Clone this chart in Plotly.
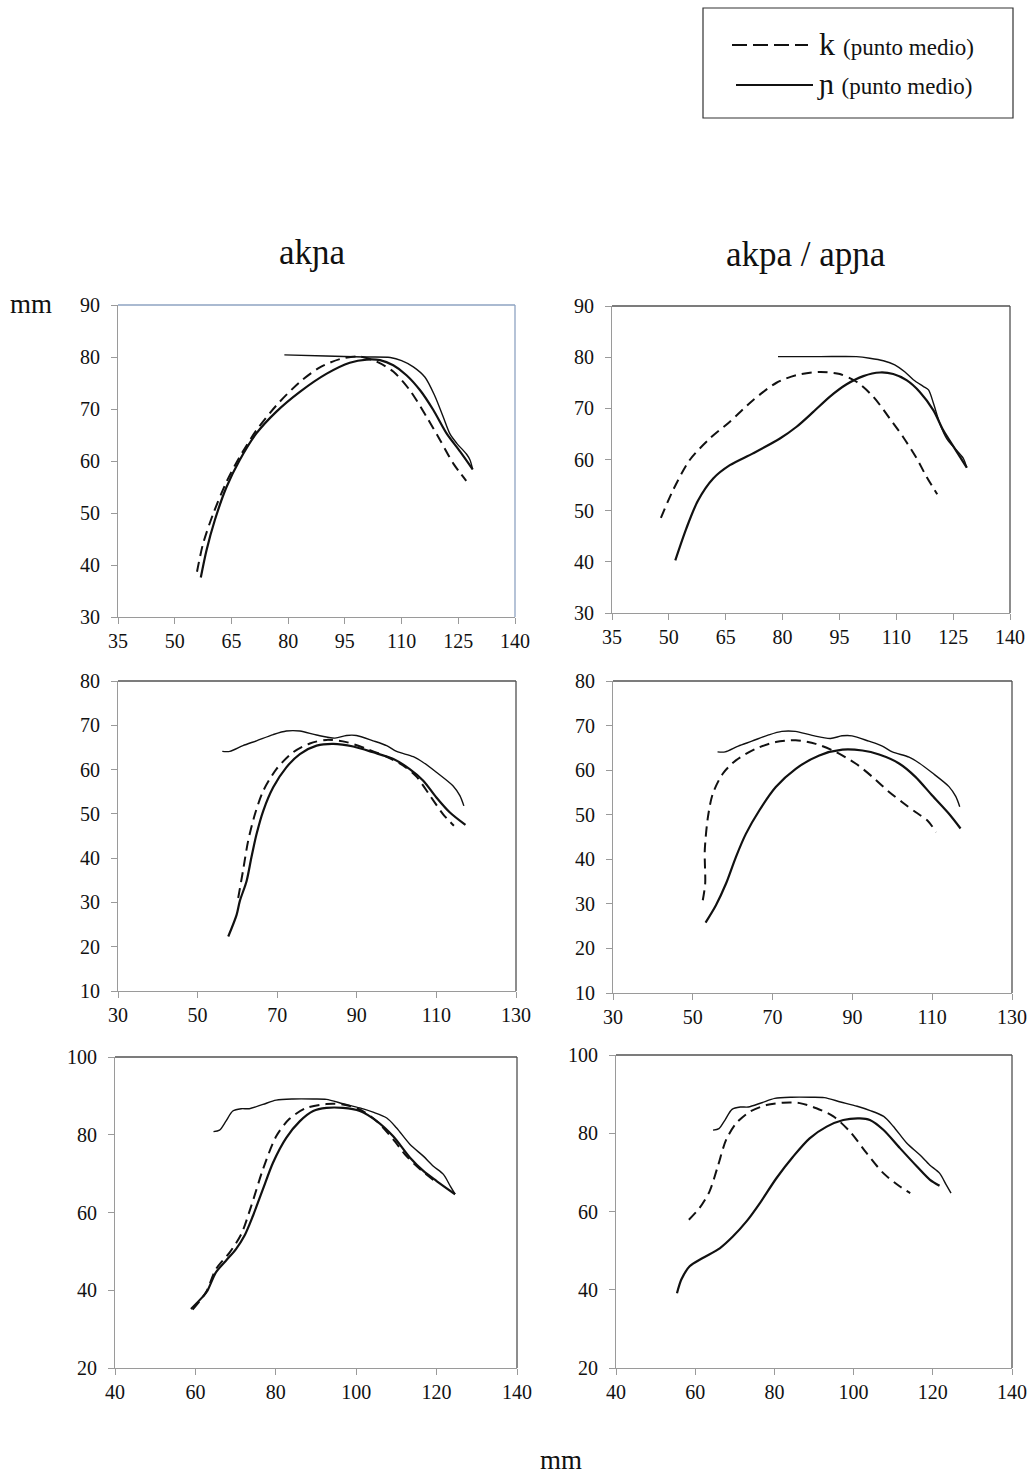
import plotly.graph_objects as go

W, H = 1033, 1475

# ---------------- data ----------------
# Row 1 (top): left akɲa, right akpa / apɲa
p1_k_x = [55.9, 57.5, 60.2, 63.7, 67.2, 71.6, 76.9, 83.1, 88.4, 93.7, 99.0, 103.4, 107.8, 112.2, 116.6, 120.2, 123.7, 127.1]
p1_k_y = [38.7, 44.1, 49.9, 56.0, 60.8, 65.9, 70.7, 75.2, 78.0, 79.6, 80.1, 79.1, 77.2, 73.6, 68.5, 64.0, 59.5, 56.2]
p1_n_x = [56.9, 58.4, 60.6, 63.7, 67.2, 71.6, 76.9, 83.1, 90.2, 96.3, 100.8, 104.3, 107.8, 111.3, 114.9, 118.4, 121.9, 125.5, 128.8]
p1_n_y = [37.6, 42.8, 48.6, 55.0, 60.2, 65.3, 69.5, 73.3, 76.8, 78.9, 79.5, 79.4, 78.4, 76.5, 73.6, 69.8, 65.3, 61.8, 58.4]
p1_pal_x = [79.0, 90.0, 100.0, 107.0, 110.0, 113.1, 116.2, 118.8, 121.0, 122.8, 124.6, 127.2, 128.1, 128.8]
p1_pal_y = [80.4, 80.2, 80.0, 79.9, 79.3, 78.1, 76.1, 72.5, 68.5, 65.2, 63.4, 61.3, 60.2, 58.4]

p2_k_x = [47.9, 51.1, 55.5, 60.8, 66.1, 72.2, 78.4, 83.7, 89.8, 95.1, 99.5, 103.9, 108.3, 111.8, 115.4, 118.0, 120.8]
p2_k_y = [48.6, 54.0, 59.9, 64.1, 67.4, 71.6, 75.0, 76.5, 77.1, 76.7, 75.2, 72.3, 68.0, 64.4, 60.2, 56.6, 53.2]
p2_n_x = [51.7, 54.6, 57.7, 61.7, 66.1, 72.2, 79.3, 83.7, 88.1, 92.5, 96.9, 101.3, 105.7, 109.2, 112.7, 116.2, 119.8, 122.4, 125.1, 128.6]
p2_n_y = [40.3, 46.5, 52.0, 56.3, 58.9, 61.2, 64.1, 66.4, 69.3, 72.3, 74.7, 76.3, 77.0, 76.7, 75.5, 73.2, 69.6, 65.7, 62.5, 58.4]
p2_pal_x = [78.8, 90.0, 99.5, 103.0, 106.6, 109.6, 112.3, 114.5, 117.1, 118.5, 119.8, 121.5, 123.3, 125.9, 127.7, 128.6]
p2_pal_y = [80.1, 80.1, 80.1, 79.8, 79.3, 78.5, 77.1, 75.6, 74.3, 73.6, 71.0, 67.0, 64.1, 61.8, 60.2, 58.4]

# Row 2
p3_k_x = [60.2, 61.4, 62.7, 64.4, 66.5, 69.8, 74.0, 78.2, 82.4, 87.4, 92.4, 97.5, 101.7, 105.0, 108.4, 111.7, 114.4]
p3_k_y = [31.0, 37.1, 43.9, 49.9, 55.2, 60.1, 63.9, 65.9, 66.7, 66.2, 64.7, 62.9, 60.9, 58.4, 54.1, 49.9, 47.3]
p3_n_x = [57.7, 59.8, 60.6, 62.3, 63.5, 64.8, 66.5, 69.0, 72.3, 75.7, 79.9, 84.1, 89.1, 94.1, 99.2, 103.3, 106.7, 110.0, 113.4, 117.3]
p3_n_y = [22.3, 27.2, 30.3, 34.8, 40.1, 45.4, 50.7, 56.0, 60.5, 63.5, 65.4, 65.8, 65.2, 63.9, 62.4, 60.1, 57.5, 53.7, 50.3, 47.5]
row2_pal_x = [56.2, 58.1, 61.4, 64.8, 69.0, 72.3, 75.7, 79.9, 84.5, 87.4, 89.9, 94.1, 97.5, 100.0, 104.2, 106.7, 110.0, 114.2, 115.9, 116.9]
row2_pal_y = [64.1, 64.1, 65.4, 66.5, 67.9, 68.7, 68.7, 67.8, 67.1, 67.7, 67.7, 66.5, 65.4, 64.1, 62.9, 61.6, 59.4, 56.3, 54.1, 51.8]

p4_k_x = [52.5, 53.1, 53.0, 53.8, 55.0, 57.5, 60.8, 65.8, 70.8, 75.8, 80.8, 85.8, 90.8, 95.0, 99.2, 102.5, 105.8, 108.8, 111.0]
p4_k_y = [30.8, 34.5, 42.0, 49.5, 54.7, 59.2, 62.2, 64.8, 66.3, 66.7, 65.9, 64.1, 61.5, 58.5, 55.1, 52.8, 50.6, 48.7, 46.1]
p4_n_x = [53.2, 55.8, 58.3, 60.8, 63.3, 66.7, 70.8, 75.8, 81.7, 87.5, 92.5, 96.7, 101.7, 105.8, 110.0, 114.2, 117.1]
p4_n_y = [25.8, 29.7, 34.5, 40.5, 45.7, 51.0, 56.2, 60.3, 63.3, 64.6, 64.4, 63.5, 61.5, 58.5, 54.3, 50.2, 46.9]

# Row 3
p5_k_x = [59.3, 62.6, 65.1, 68.5, 71.4, 73.9, 76.8, 80.1, 83.4, 87.6, 92.6, 96.7, 100.9, 105.1, 109.2, 112.5, 115.9, 120.0]
p5_k_y = [35.0, 39.4, 45.4, 49.7, 54.4, 61.7, 71.1, 79.6, 84.1, 86.9, 87.9, 87.8, 86.5, 83.5, 78.8, 74.5, 71.1, 67.7]
p5_n_x = [58.9, 61.8, 63.0, 65.1, 67.6, 70.1, 72.2, 74.3, 76.8, 79.3, 82.6, 86.0, 89.3, 92.6, 96.7, 100.9, 105.1, 109.2, 113.4, 116.7, 120.0, 124.6]
p5_n_y = [35.2, 38.3, 39.9, 44.6, 47.6, 50.6, 54.0, 59.1, 66.0, 72.8, 79.2, 83.5, 86.1, 86.9, 86.9, 86.1, 83.5, 79.6, 74.1, 70.7, 68.1, 64.7]
row3_pal_x = [64.5, 66.0, 67.6, 69.3, 71.4, 73.4, 76.8, 80.1, 84.3, 89.3, 92.6, 96.7, 100.9, 104.2, 107.6, 110.0, 113.4, 116.7, 119.2, 121.7, 123.4, 124.6]
row3_pal_y = [80.8, 81.2, 83.5, 86.1, 86.7, 86.7, 87.8, 88.9, 89.2, 89.2, 89.1, 88.0, 86.9, 85.8, 84.3, 81.8, 77.5, 74.5, 71.9, 69.8, 66.8, 64.7]

p6_k_x = [58.4, 61.1, 63.6, 65.7, 67.8, 70.4, 73.8, 78.0, 82.2, 86.4, 90.6, 94.9, 99.1, 103.3, 107.5, 111.7, 114.3]
p6_k_y = [57.9, 60.9, 65.1, 71.5, 78.3, 82.6, 85.5, 87.2, 87.8, 87.7, 86.4, 84.3, 80.4, 74.9, 69.8, 66.4, 64.7]
p6_n_x = [55.4, 56.5, 58.6, 61.9, 66.2, 69.5, 72.9, 76.3, 80.5, 84.7, 88.9, 93.2, 97.4, 101.6, 104.1, 107.5, 111.7, 116.0, 119.3, 121.7]
p6_n_y = [39.1, 42.6, 46.0, 48.1, 50.6, 53.6, 57.4, 62.1, 68.5, 74.0, 78.7, 81.7, 83.4, 83.8, 83.4, 80.9, 76.2, 71.5, 68.1, 66.6]

col_titles = ["akɲa", "akpa / apɲa"]
legend_labels = ["k", "ɲ"]
legend_sub = "(punto medio)"
axis_unit = "mm"

x_ranges = [[35, 140], [35, 140], [30, 130], [30, 130], [40, 140], [40, 140]]
y_ranges = [[30, 90], [30, 90], [10, 80], [10, 80], [20, 100], [20, 100]]
x_dticks = [15, 15, 20, 20, 20, 20]
y_dticks = [10, 10, 10, 10, 20, 20]

panels = [
    (p1_k_x, p1_k_y, p1_n_x, p1_n_y, p1_pal_x, p1_pal_y),
    (p2_k_x, p2_k_y, p2_n_x, p2_n_y, p2_pal_x, p2_pal_y),
    (p3_k_x, p3_k_y, p3_n_x, p3_n_y, row2_pal_x, row2_pal_y),
    (p4_k_x, p4_k_y, p4_n_x, p4_n_y, row2_pal_x, row2_pal_y),
    (p5_k_x, p5_k_y, p5_n_x, p5_n_y, row3_pal_x, row3_pal_y),
    (p6_k_x, p6_k_y, p6_n_x, p6_n_y, row3_pal_x, row3_pal_y),
]

# ---------------- layout geometry (window pixels) ----------------
boxes = [
    (118, 515, 305, 617),
    (612, 1010, 306, 613),
    (118, 516, 681, 991),
    (613, 1012, 681, 993),
    (115, 517, 1057, 1368),
    (616, 1012, 1055, 1368),
]

FONT = "Liberation Serif, Times New Roman, DejaVu Serif, serif"
TICKSIZE = 20

def px(x):
    return x / W

def py(y):
    return 1 - y / H

fig = go.Figure()
layout = dict(
    template="none",
    width=W, height=H, autosize=False,
    margin=dict(l=0, r=0, t=0, b=0, pad=0),
    paper_bgcolor="white", plot_bgcolor="white",
    showlegend=False,
    font=dict(family=FONT, size=TICKSIZE, color="#111"),
)
shapes = []
for i, (kx, ky, nx, ny, palx, paly) in enumerate(panels):
    n = i + 1
    xa = "x" if n == 1 else f"x{n}"
    ya = "y" if n == 1 else f"y{n}"
    fig.add_trace(go.Scatter(x=palx, y=paly, mode="lines", xaxis=xa, yaxis=ya,
                             line=dict(color="#111", width=1.4, shape="spline", smoothing=0.8)))
    fig.add_trace(go.Scatter(x=nx, y=ny, mode="lines", xaxis=xa, yaxis=ya,
                             line=dict(color="#111", width=2.2, shape="spline", smoothing=0.8)))
    fig.add_trace(go.Scatter(x=kx, y=ky, mode="lines", xaxis=xa, yaxis=ya,
                             line=dict(color="#111", width=2.0, dash="10px,6px", shape="spline", smoothing=0.8)))
    x0, x1, y0, y1 = boxes[i]
    common = dict(showgrid=False, zeroline=False, showline=True, linecolor="#9a9a9a",
                  linewidth=1.2, ticks="outside", ticklen=6, tickcolor="#9a9a9a", tickwidth=1,
                  automargin=False, ticklabeloverflow="allow",
                  tickfont=dict(family=FONT, size=TICKSIZE, color="#111"))
    layout["xaxis" if n == 1 else f"xaxis{n}"] = dict(
        domain=[px(x0), px(x1)], range=x_ranges[i], dtick=x_dticks[i], tick0=x_ranges[i][0],
        anchor=ya, **common)
    layout["yaxis" if n == 1 else f"yaxis{n}"] = dict(
        domain=[py(y1), py(y0)], range=y_ranges[i], dtick=y_dticks[i], tick0=y_ranges[i][0],
        anchor=xa, ticklabelstandoff=7, **common)
    border = "#8ea3c2" if n == 1 else "#505050"
    xd = f"{xa} domain"
    yd = f"{ya} domain"
    shapes.append(dict(type="line", xref=xd, yref=yd, x0=0, x1=1, y0=1, y1=1,
                       line=dict(color=border, width=1.3)))
    shapes.append(dict(type="line", xref=xd, yref=yd, x0=1, x1=1, y0=0, y1=1,
                       line=dict(color=border, width=1.3)))

# legend box (decoration)
shapes.append(dict(type="rect", xref="paper", yref="paper",
                   x0=px(703), x1=px(1013), y0=py(118), y1=py(8),
                   line=dict(color="#333", width=1.2)))
shapes.append(dict(type="line", xref="paper", yref="paper",
                   x0=px(732), x1=px(808), y0=py(45), y1=py(45),
                   line=dict(color="#111", width=2, dash="15px,6px")))
shapes.append(dict(type="line", xref="paper", yref="paper",
                   x0=px(736), x1=px(813), y0=py(85), y1=py(85),
                   line=dict(color="#111", width=2)))

def ann(text, x, y, size, xanchor="center"):
    return dict(text=text, x=px(x), y=py(y), xref="paper", yref="paper",
                xanchor=xanchor, yanchor="middle", showarrow=False,
                font=dict(family=FONT, size=size, color="#111"))

annotations = [
    ann(col_titles[0], 312, 253, 35),
    ann(col_titles[1], 806, 255, 35),
    ann(axis_unit, 31, 304, 27),
    ann(axis_unit, 561, 1460, 27),
    ann(f"{legend_labels[0]} <span style='font-size:23px'>{legend_sub}</span>", 817, 44, 32, "left"),
    ann(f"{legend_labels[1]} <span style='font-size:23px'>{legend_sub}</span>", 815, 84, 30, "left"),
]

layout["shapes"] = shapes
layout["annotations"] = annotations
fig.update_layout(**layout)
# remove the browser's default 8px body margin so the page maps 1:1 to the window
fig.write_html("out.html", config={"displayModeBar": False},
               post_script="document.body.style.margin='0px';")
